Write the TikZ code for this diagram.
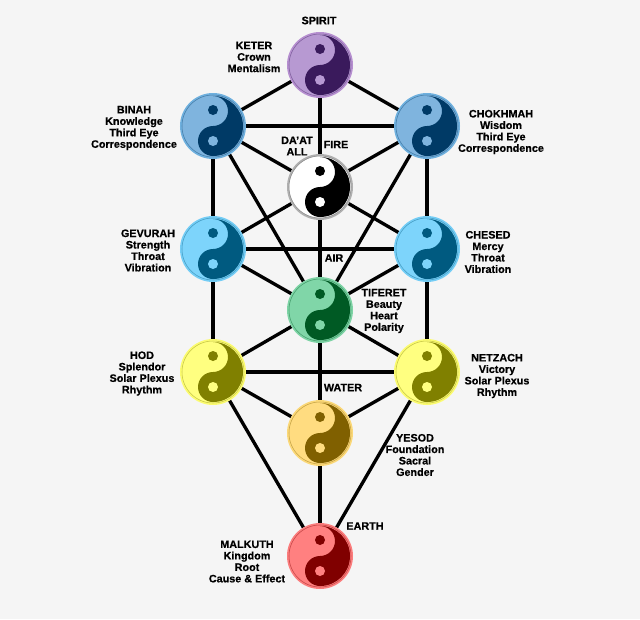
\documentclass[tikz,border=0pt]{standalone}
\usepackage{fontspec}
\setmainfont[BoldFeatures={FakeBold=0.5}]{Liberation Sans}
\usetikzlibrary{backgrounds}
\definecolor{paper}{HTML}{F5F5F5}
\definecolor{violetrim}{HTML}{B68FD0}
\definecolor{violetlight}{HTML}{B799D2}
\definecolor{violetdark}{HTML}{3A1A5C}
\definecolor{bluerim}{HTML}{6FB0DE}
\definecolor{bluelight}{HTML}{7FB4DE}
\definecolor{bluedark}{HTML}{003A66}
\definecolor{skyrim}{HTML}{74CDF5}
\definecolor{skylight}{HTML}{7DD4FB}
\definecolor{skydark}{HTML}{005A80}
\definecolor{greenrim}{HTML}{7DD3A5}
\definecolor{greenlight}{HTML}{80D6A8}
\definecolor{greendark}{HTML}{005A24}
\definecolor{yellowrim}{HTML}{FBFB70}
\definecolor{yellowlight}{HTML}{FFFF80}
\definecolor{yellowdark}{HTML}{808000}
\definecolor{goldrim}{HTML}{FBD878}
\definecolor{goldlight}{HTML}{FFDC80}
\definecolor{golddark}{HTML}{806000}
\definecolor{redrim}{HTML}{FB7D7D}
\definecolor{redlight}{HTML}{FF8080}
\definecolor{reddark}{HTML}{800000}
\definecolor{monorim}{HTML}{B0B0B0}
\definecolor{monolight}{HTML}{FFFFFF}
\definecolor{monodark}{HTML}{000000}
\tikzset{
    sefira/.style = {
        circle,
        draw=#1rim,
        fill=#1light,
        line width=1.5pt,
        inner sep=0pt,
        minimum size=48pt
    },
    pathway/.style = {
        draw=black,
        line width=2.5pt
    },
    sefiralabel/.style = {
        align=center,
        inner sep=0pt,
        font=\fontsize{8.1}{8.6}\selectfont\bfseries
    }
}
% one yin-yang disc: name, centre, colour family
\newcommand{\yinyang}[3]{
    \node [sefira=#3] (#1) at (#2) {};
    \begin{scope}[shift={(#2)}]
        \draw [#3dark!45!#3light, line width=0.4pt] (0,0) circle (31);
        \fill [#3dark] (0,-30) arc (-90:90:30) arc (90:270:15) arc (90:-90:15) -- cycle;
        \fill [#3dark] (0,-16) circle (5);
        \fill [#3light] (0,15) circle (5);
    \end{scope}
}
\begin{document}
\begin{tikzpicture}[x=0.75pt,y=-0.75pt]
    \useasboundingbox (0,0) rectangle (640,619);

    \yinyang{keter}{320,65}{violet}
    \yinyang{binah}{213,126}{blue}
    \yinyang{chokhmah}{427,126}{blue}
    \yinyang{daat}{320,187}{mono}
    \yinyang{gevurah}{213,249}{sky}
    \yinyang{chesed}{427,249}{sky}
    \yinyang{tiferet}{320,310}{green}
    \yinyang{hod}{213,372}{yellow}
    \yinyang{netzach}{427,372}{yellow}
    \yinyang{yesod}{320,433}{gold}
    \yinyang{malkuth}{320,556}{red}

    \begin{scope}[on background layer]
        \fill [paper] (0,0) rectangle (640,619);
        \draw [pathway] (keter) -- (binah);
        \draw [pathway] (keter) -- (chokhmah);
        \draw [pathway] (keter) -- (daat);
        \draw [pathway] (binah) -- (chokhmah);
        \draw [pathway] (binah) -- (daat);
        \draw [pathway] (chokhmah) -- (daat);
        \draw [pathway] (binah) -- (gevurah);
        \draw [pathway] (chokhmah) -- (chesed);
        \draw [pathway] (binah) -- (tiferet);
        \draw [pathway] (chokhmah) -- (tiferet);
        \draw [pathway] (daat) -- (gevurah);
        \draw [pathway] (daat) -- (chesed);
        \draw [pathway] (daat) -- (tiferet);
        \draw [pathway] (gevurah) -- (chesed);
        \draw [pathway] (gevurah) -- (tiferet);
        \draw [pathway] (chesed) -- (tiferet);
        \draw [pathway] (gevurah) -- (hod);
        \draw [pathway] (chesed) -- (netzach);
        \draw [pathway] (tiferet) -- (hod);
        \draw [pathway] (tiferet) -- (netzach);
        \draw [pathway] (tiferet) -- (yesod);
        \draw [pathway] (hod) -- (netzach);
        \draw [pathway] (hod) -- (yesod);
        \draw [pathway] (netzach) -- (yesod);
        \draw [pathway] (hod) -- (malkuth);
        \draw [pathway] (netzach) -- (malkuth);
        \draw [pathway] (yesod) -- (malkuth);
    \end{scope}

    \node [sefiralabel] (spirit) at (319,20.5) {SPIRIT};
    \node [sefiralabel] (keterlabel) at (254,57) {KETER\\Crown\\Mentalism};
    \node [sefiralabel] (binahlabel) at (134,128) {BINAH\\Knowledge\\Third Eye\\Correspondence};
    \node [sefiralabel] (chokhmahlabel) at (501,132) {CHOKHMAH\\Wisdom\\Third Eye\\Correspondence};
    \node [sefiralabel] (daatlabel) at (297,146) {DA’AT\\ALL};
    \node [sefiralabel] (fire) at (336,144.5) {FIRE};
    \node [sefiralabel] (gevurahlabel) at (148,250.5) {GEVURAH\\Strength\\Throat\\Vibration};
    \node [sefiralabel] (chesedlabel) at (488,252) {CHESED\\Mercy\\Throat\\Vibration};
    \node [sefiralabel] (air) at (334,258) {AIR};
    \node [sefiralabel] (tiferetlabel) at (384,311) {TIFERET\\Beauty\\Heart\\Polarity};
    \node [sefiralabel] (hodlabel) at (142,373.5) {HOD\\Splendor\\Solar Plexus\\Rhythm};
    \node [sefiralabel] (netzachlabel) at (497,376) {NETZACH\\Victory\\Solar Plexus\\Rhythm};
    \node [sefiralabel] (water) at (343,387.5) {WATER};
    \node [sefiralabel] (yesodlabel) at (415,455) {YESOD\\Foundation\\Sacral\\Gender};
    \node [sefiralabel] (earth) at (365,526) {EARTH};
    \node [sefiralabel] (malkuthlabel) at (247,561.5) {MALKUTH\\Kingdom\\Root\\Cause \& Effect};
\end{tikzpicture}
\end{document}
